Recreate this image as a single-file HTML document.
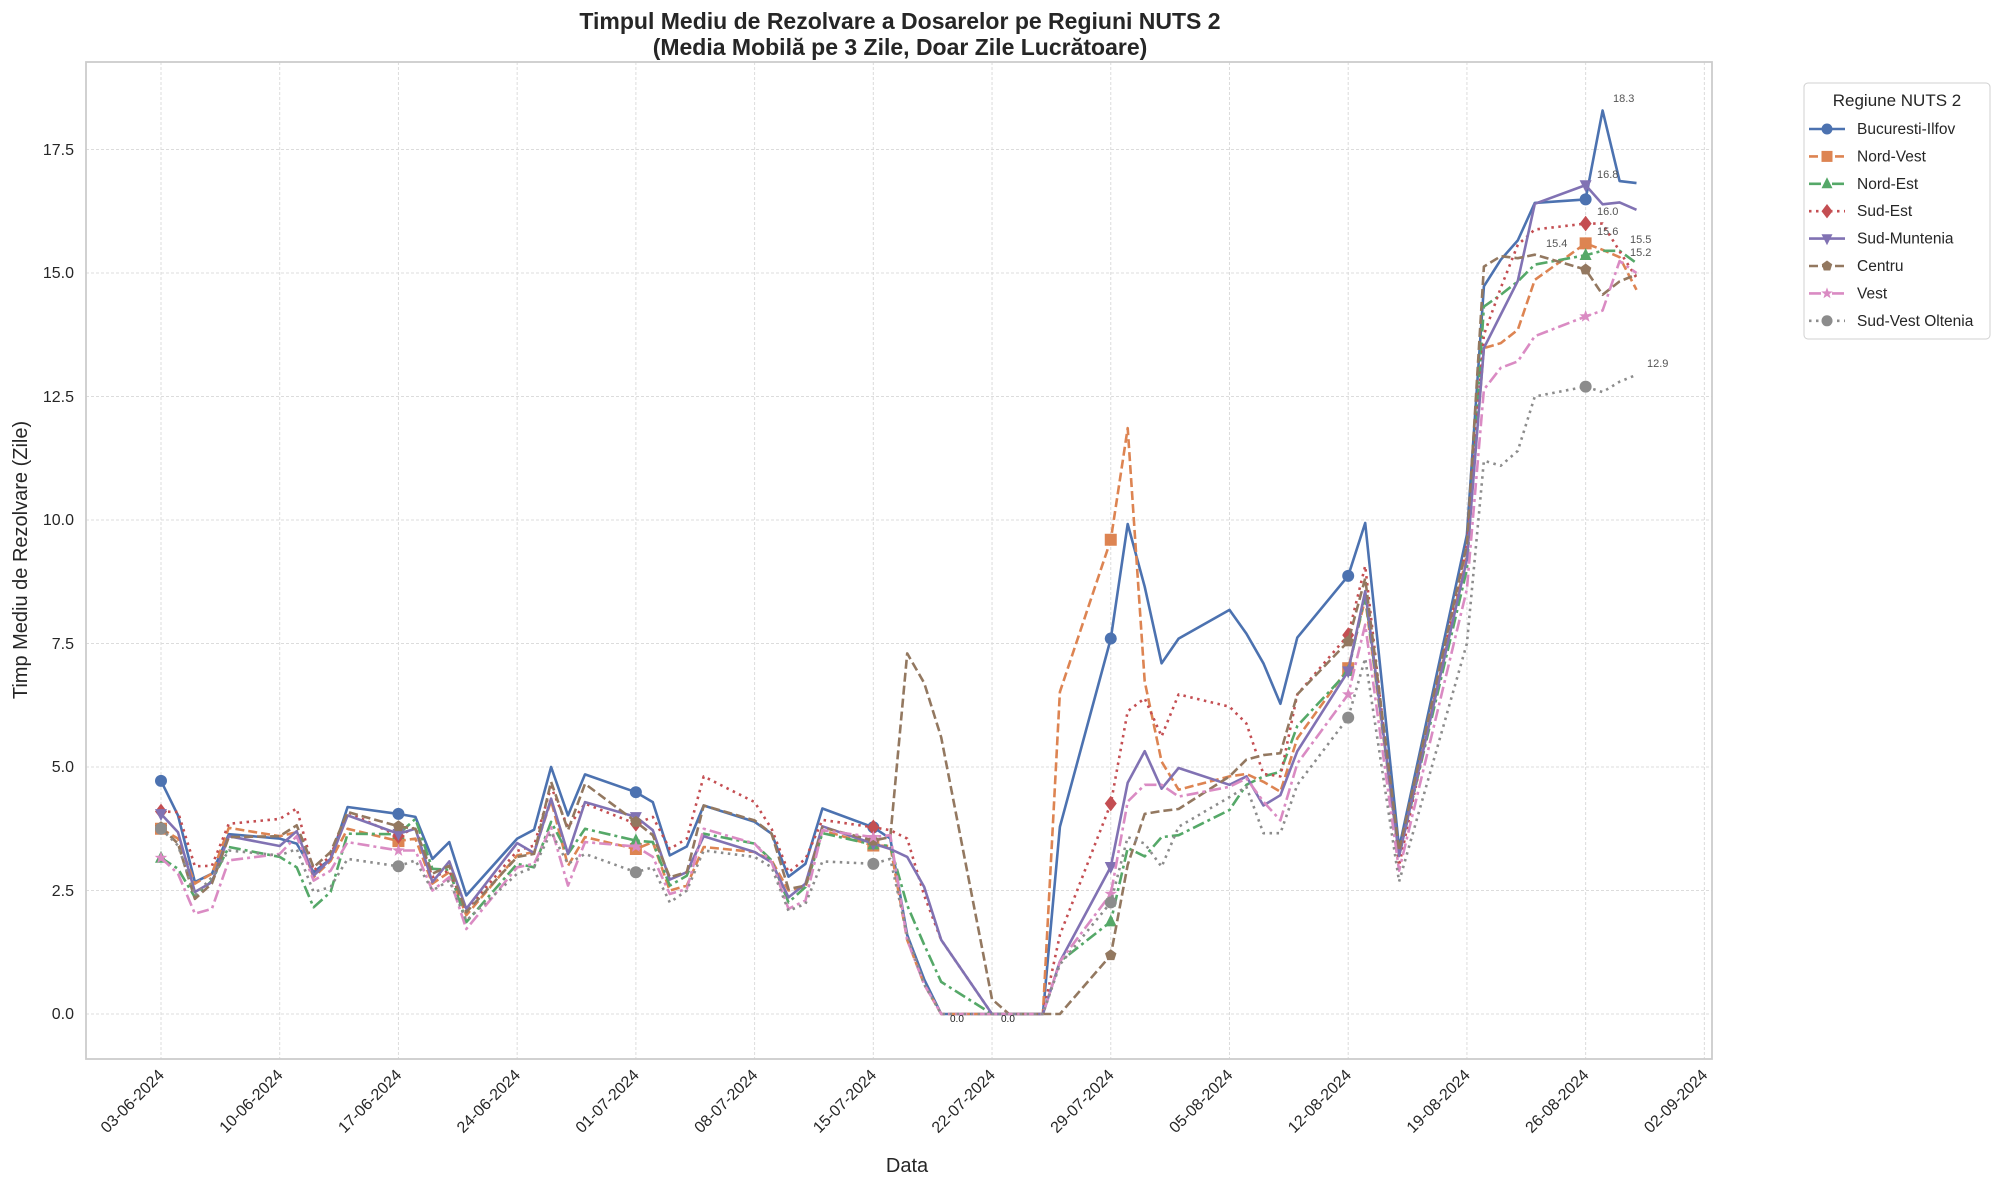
<!DOCTYPE html>
<html><head><meta charset="utf-8"><style>
body{margin:0;background:#fff}
svg text{font-family:"Liberation Sans",Arial,sans-serif}
</style></head><body>
<svg id="s" width="2000" height="1188" xmlns="http://www.w3.org/2000/svg">
<rect width="2000" height="1188" fill="#fff"/>
<g id="grid"></g>
<rect x="86" y="62" width="1626" height="997" fill="none" stroke="#cccccc" stroke-width="1.8"/>
<text x="900" y="29" text-anchor="middle" font-size="23" font-weight="bold" fill="#262626">Timpul Mediu de Rezolvare a Dosarelor pe Regiuni NUTS 2</text>
<text x="900" y="55" text-anchor="middle" font-size="23" font-weight="bold" fill="#262626">(Media Mobilă pe 3 Zile, Doar Zile Lucrătoare)</text>
<text transform="translate(27,560) rotate(-90)" text-anchor="middle" font-size="20" fill="#262626">Timp Mediu de Rezolvare (Zile)</text>
<text x="907" y="1172" text-anchor="middle" font-size="20" fill="#262626">Data</text>
<g id="yt" font-size="16" fill="#262626" text-anchor="end">
<text x="74" y="1019">0.0</text><text x="74" y="896">2.5</text><text x="74" y="772">5.0</text><text x="74" y="649">7.5</text><text x="74" y="525">10.0</text><text x="74" y="402">12.5</text><text x="74" y="278">15.0</text><text x="74" y="155">17.5</text>
</g>
<g id="xt" font-size="16" fill="#262626" text-anchor="end"></g>
<g id="lines"></g>
<g font-size="11" fill="#555">
<text x="1613" y="102">18.3</text><text x="1597" y="178">16.8</text><text x="1597" y="215">16.0</text><text x="1597" y="235">15.6</text><text x="1546" y="247">15.4</text><text x="1630" y="243">15.5</text><text x="1630" y="256">15.2</text><text x="1647" y="367">12.9</text>
</g>
<g font-size="10" fill="#222"><text x="950" y="1022">0.0</text><text x="1001" y="1022">0.0</text></g>
<g id="leg">
<rect x="1804" y="83" width="186" height="256" rx="4" fill="#fff" stroke="#d0d0d0"/>
<text x="1897" y="106" text-anchor="middle" font-size="17" fill="#262626">Regiune NUTS 2</text>
</g>
</svg>
<script>
const NS="http://www.w3.org/2000/svg";
function el(t,a,p){const e=document.createElementNS(NS,t);for(const k in a)e.setAttribute(k,a[k]);p.appendChild(e);return e;}
const X=d=>161+16.96*d, Y=v=>1014-49.4*v;
const grid=document.getElementById('grid'), xt=document.getElementById('xt');
for(let i=0;i<8;i++){el('line',{x1:86,x2:1712,y1:Y(i*2.5),y2:Y(i*2.5),stroke:'#dcdcdc','stroke-dasharray':'3,2','stroke-width':1},grid);}
const labs=["03-06-2024","10-06-2024","17-06-2024","24-06-2024","01-07-2024","08-07-2024","15-07-2024","22-07-2024","29-07-2024","05-08-2024","12-08-2024","19-08-2024","26-08-2024","02-09-2024"];
labs.forEach((l,i)=>{const x=X(i*7);el('line',{x1:x,x2:x,y1:62,y2:1059,stroke:'#dcdcdc','stroke-dasharray':'3,2','stroke-width':1},grid);
const t=el('text',{transform:`translate(${x+4},${1076}) rotate(-45)`},xt);t.textContent=l;});
let days=[];for(let w=0;w<10;w++)for(let d=0;d<5;d++)days.push(w*7+d);
days.push(70,71,73,77,78,79,80,81,84,85,86,87);
const S=[
["Bucuresti-Ilfov","#4c72b0","",'o',[4.72,4.02,2.67,2.84,3.64,3.55,3.45,2.87,3.14,4.19,4.05,3.99,3.14,3.48,2.4,3.55,3.73,5.0,4.02,4.85,4.49,4.29,3.21,3.39,4.22,3.89,3.65,2.78,3.04,4.16,3.78,3.55,1.6,0.7,0,0,0,0,0,3.79,7.6,9.92,8.65,7.1,7.6,8.18,7.7,7.1,6.28,7.62,8.87,9.94,3.36,9.7,14.73,15.27,15.66,16.42,16.49,18.29,16.86,16.82]],
["Nord-Vest","#dd8452","9,4",'s',[3.75,3.55,2.64,2.84,3.77,3.6,3.68,2.77,3.1,3.75,3.5,3.55,2.64,2.87,2.0,3.21,3.28,4.32,3.0,3.58,3.34,3.48,2.5,2.6,3.38,3.28,3.11,2.5,2.57,3.72,3.41,3.4,1.5,0.6,0,0,0,0,0,6.52,9.6,11.86,6.73,5.11,4.54,4.81,4.86,4.7,4.5,5.58,7.0,8.4,3.2,9.3,13.48,13.58,13.85,14.86,15.6,15.47,15.32,14.66]],
["Nord-Est","#55a868","12,4,3,4",'^',[3.16,2.94,2.36,2.7,3.38,3.18,2.97,2.16,2.47,3.65,3.64,3.95,2.94,2.92,1.86,3.04,2.97,3.89,3.24,3.75,3.51,3.48,2.6,2.8,3.65,3.45,3.11,2.26,2.57,3.66,3.43,3.4,2.2,1.4,0.65,0,0,0,0,1.06,1.87,3.36,3.19,3.58,3.62,4.13,4.64,4.81,4.9,5.83,6.94,8.47,3.2,9.0,14.32,14.56,14.83,15.17,15.36,15.45,15.45,15.2]],
["Sud-Est","#c44e52","2.5,4.5",'D',[4.1,4.09,2.99,3.0,3.85,3.95,4.16,2.9,3.2,4.09,3.6,3.78,2.77,2.9,2.1,3.3,3.41,4.6,3.78,4.26,3.85,3.99,3.34,3.55,4.81,4.29,3.75,2.87,3.14,3.93,3.78,3.72,3.55,2.4,1.5,0,0,0,0,1.6,4.26,6.13,6.39,5.62,6.47,6.22,5.88,4.86,4.81,6.47,7.67,9.07,3.0,9.5,13.75,14.7,15.57,15.88,16.0,16.0,15.44,14.9]],
["Sud-Muntenia","#8172b3","",'v',[4.05,3.68,2.47,2.67,3.6,3.4,3.7,2.8,3.14,4.02,3.65,3.75,2.67,3.09,2.13,3.46,3.26,4.36,3.24,4.29,3.99,3.72,2.72,2.87,3.6,3.28,3.07,2.36,2.64,3.8,3.45,3.34,3.18,2.57,1.5,0,0,0,0,1.06,2.98,4.68,5.32,4.56,4.98,4.64,4.81,4.22,4.43,5.32,6.94,8.56,3.2,9.2,13.48,14.16,14.84,16.4,16.78,16.39,16.43,16.28]],
["Centru","#937860","9,4",'p',[3.78,3.45,2.33,2.64,3.58,3.6,3.82,2.97,3.28,4.09,3.8,3.75,2.84,3.0,2.06,3.18,3.24,4.7,3.72,4.66,3.89,3.62,2.77,2.87,4.22,3.92,3.65,2.53,2.6,3.78,3.51,3.58,7.3,6.7,5.6,0.3,0,0,0,0,1.19,3.02,4.05,4.11,4.15,4.81,5.15,5.24,5.28,6.47,7.54,8.82,3.3,9.5,15.13,15.34,15.3,15.37,15.07,14.56,14.83,14.97]],
["Vest","#da8bc3","12,4,3,4",'*',[3.16,2.84,2.03,2.13,3.11,3.24,3.6,2.7,2.9,3.48,3.31,3.31,2.5,2.77,1.72,2.97,3.04,3.78,2.6,3.48,3.39,3.18,2.43,2.53,3.75,3.45,3.07,2.13,2.3,3.72,3.58,3.62,1.5,0.6,0,0,0,0,0,1.06,2.43,4.3,4.64,4.64,4.4,4.6,4.77,4.3,3.92,5.07,6.47,7.88,2.9,8.6,12.64,13.08,13.21,13.72,14.12,14.24,15.24,15.0]],
["Sud-Vest Oltenia","#8c8c8c","2.5,4.5",'h',[3.75,3.41,2.4,2.77,3.31,3.21,3.34,2.47,2.57,3.14,2.99,3.11,2.5,2.7,1.89,2.84,2.97,3.68,3.04,3.24,2.87,2.97,2.26,2.5,3.31,3.18,2.97,2.09,2.23,3.09,3.04,3.14,1.6,0.6,0,0,0,0,0,1.0,2.26,3.58,3.45,2.98,3.79,4.39,4.6,3.66,3.66,4.64,6.0,7.2,2.68,7.5,11.2,11.1,11.4,12.5,12.7,12.59,12.8,12.94]]
];
function marker(m,x,y,c,p,r){r=r||6;let pts;
 if(m=='o'||m=='h'){el('circle',{cx:x,cy:y,r:r,fill:c},p);return;}
 if(m=='s')pts=[[-r,-r],[r,-r],[r,r],[-r,r]];
 if(m=='^')pts=[[0,-r*1.2],[r,r*0.8],[-r,r*0.8]];
 if(m=='v')pts=[[0,r*1.2],[r,-r*0.8],[-r,-r*0.8]];
 if(m=='D')pts=[[0,-r*1.3],[r,0],[0,r*1.3],[-r,0]];
 if(m=='p'){pts=[];for(let i=0;i<5;i++){const a=-Math.PI/2+i*2*Math.PI/5;pts.push([r*Math.cos(a),r*Math.sin(a)]);}}
 if(m=='*'){pts=[];for(let i=0;i<10;i++){const a=-Math.PI/2+i*Math.PI/5,rr=i%2?r*0.45:r*1.1;pts.push([rr*Math.cos(a),rr*Math.sin(a)]);}}
 el('polygon',{points:pts.map(q=>(x+q[0])+','+(y+q[1])).join(' '),fill:c},p);}
const L=document.getElementById('lines'),G=document.getElementById('leg');
const mk=[0,10,20,30,40,50,58];
S.forEach((s,i)=>{const[n,c,da,m,v]=s;
 const d=v.map((val,k)=>(k?'L':'M')+X(days[k]).toFixed(1)+','+Y(val).toFixed(1)).join('');
 const a={d:d,fill:'none',stroke:c,'stroke-width':2.6,'stroke-linejoin':'round'};if(da)a['stroke-dasharray']=da;
 el('path',a,L);mk.forEach(k=>marker(m,X(days[k]),Y(v[k]),c,L));
 const y=129+i*27.4;const b={x1:1809,x2:1845,y1:y,y2:y,stroke:c,'stroke-width':2.6};if(da)b['stroke-dasharray']=da;
 el('line',b,G);marker(m,1827,y,c,G,5.5);
 const t=el('text',{x:1857,y:y+5,'font-size':15.5,fill:'#262626'},G);t.textContent=n;});
</script>
</body></html>
